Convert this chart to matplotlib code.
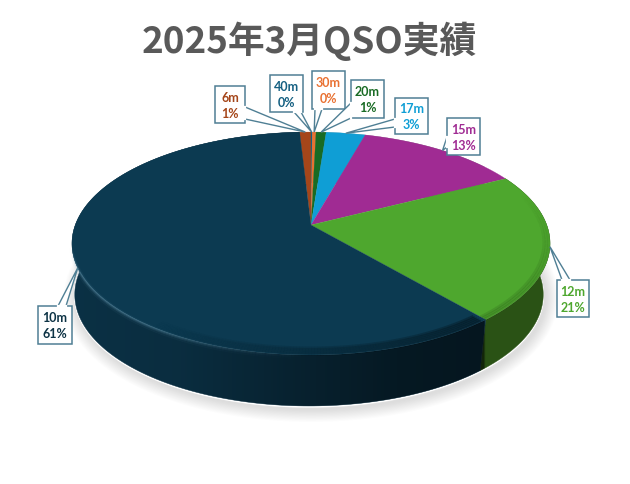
import numpy as np
import matplotlib
matplotlib.use("Agg")
import matplotlib.pyplot as plt
from matplotlib.collections import LineCollection
from matplotlib.patches import Polygon

plt.rcParams['font.family'] = ['Noto Sans CJK JP', 'DejaVu Sans']

# clockwise from the top of the pie
bands = ["6m", "40m", "30m", "20m", "17m", "15m", "12m", "10m"]
shares = [0.9, 0.1, 0.3, 0.8, 3.1, 13.1, 21.4, 60.3]
pct_labels = ["1%", "0%", "0%", "1%", "3%", "13%", "21%", "61%"]
title = "2025年3月QSO実績"

colors = ["#a5461a", "#156082", "#e97132", "#196b24", "#0f9ed5", "#a02b93", "#4ea72e", "#0c3a51"]
label_colors = colors[:7] + ["#0d3345"]
wall_colors = ["#5e2a10", "#0c3a4e", "#8a4420", "#0e3f15", "#0a5f80", "#601a58", "#2a5215", "#0b3145"]
# left, top, width, height of each callout box in pixels
boxes = [(215, 87, 30, 37), (270, 76, 33, 37), (312, 72, 33, 38), (351, 81, 33, 38),
         (395, 99, 33, 36), (447, 119, 33, 37), (557, 281, 32, 37), (38, 307, 34, 38)]
# where the tail leaves the box
tails = [((245, 108), (245, 120)), ((294, 113), (301, 113)), ((315, 110), (322, 110)), ((351, 104), (351, 119)),
         ((395, 120), (395, 128)), ((447, 138), (447, 148)), ((562, 281), (570, 281)), ((58, 307), (66, 307))]

CX, CY = 311, 226
A, B, K = 235.7, 108.4, 0.166
DEPTH = 51
START = -0.009


def rim(frac, r=1.0):
    # perspective view of a circle, frac runs clockwise from the top
    t = 2 * np.pi * np.asarray(frac)
    u, v = r * np.sin(t), -r * np.cos(t)
    w = 1 - K * v
    return CX + A * u / w, CY + B * v / w


def bottom_rim(frac):
    x, y = rim(frac)
    return CX - 2 + (x - CX) * 0.98, y + DEPTH


def fading_line(frac, alphas, color, lw, r=1.0, dy=0.0, z=5):
    x, y = rim(frac, r)
    pts = np.c_[x, y + dy]
    segs = np.stack([pts[:-1], pts[1:]], axis=1)
    rgb = matplotlib.colors.to_rgb(color)
    cols = [(rgb[0], rgb[1], rgb[2], a) for a in alphas[:-1]]
    ax.add_collection(LineCollection(segs, colors=cols, linewidths=lw, zorder=z, capstyle="butt"))


fig = plt.figure(figsize=(6.3, 4.85), dpi=100)
ax = fig.add_axes([0, 0, 1, 1])
ax.set_xlim(0, 630)
ax.set_ylim(485, 0)
ax.axis("off")

cum = START + np.concatenate([[0], np.cumsum(shares)]) / 100.0
all_fr = np.linspace(0, 1, 361)

# soft shadow under the pie
bx, by = bottom_rim(all_fr)
for i in range(12):
    ax.add_patch(Polygon(np.c_[bx + 2, by + 3], closed=True, fill=False,
                         ec="#8c8c8c", lw=1 + i * 1.6, alpha=0.025, zorder=1))
ax.add_patch(Polygon(np.c_[bx, by + 0.8], closed=True, fc="white", ec="white", lw=1.2, zorder=1.5))

# side wall, only the front parts show
for i in [6, 7]:
    fr = np.linspace(cum[i], cum[i + 1], 200)
    tx, ty = rim(fr)
    bx2, by2 = bottom_rim(fr)
    pts = np.r_[np.c_[tx, ty], np.c_[bx2, by2][::-1]]
    ax.add_patch(Polygon(pts, closed=True, fc=wall_colors[i], ec=wall_colors[i], lw=0.3, zorder=2))

# darker shading on the navy wall, growing towards the front right corner
tx, ty = rim(all_fr)
wall_clip = Polygon(np.r_[np.c_[tx, ty], np.c_[bx, by][::-1]], closed=True, transform=ax.transData)
xs = np.linspace(60, 560, 501)
shade = np.interp(xs, [60, 180, 300, 400, 484, 486, 560], [0.0, 0.08, 0.32, 0.5, 0.55, 0.0, 0.0])
rgba = np.zeros((1, 501, 4))
rgba[0, :, 3] = shade
im = ax.imshow(rgba, extent=(60, 560, 420, 130), aspect="auto", zorder=3, interpolation="bilinear")
im.set_clip_path(wall_clip)
ax.set_xlim(0, 630)
ax.set_ylim(485, 0)

# top face
for i in range(len(bands)):
    fr = np.linspace(cum[i], cum[i + 1], max(3, int(shares[i] * 4)))
    x, y = rim(fr)
    pts = np.r_[[[CX, CY]], np.c_[x, y]]
    ax.add_patch(Polygon(pts, closed=True, fc=colors[i], ec=colors[i], lw=0.2, zorder=4))

# bevel: light edge on the left front, dark edge on the right front
fr = np.linspace(0.5, 0.72, 120)
fade = np.interp(fr, [0.5, 0.6, 0.68, 0.72], [0.0, 0.3, 0.32, 0.0])
for lw, a, dy in [(4, 0.12, 1.5), (2, 0.3, 1), (1, 0.5, 0.5)]:
    fading_line(fr, fade * a / 0.3 * 0.5, "#6fa3bd", lw, dy=dy)
fr = np.linspace(0.391, 0.6, 120)
fade = np.interp(fr, [0.391, 0.46, 0.6], [0.5, 0.3, 0.0])
for r in [0.995, 0.985, 0.975, 0.965, 0.955]:
    fading_line(fr, fade * 0.5, "black", 2.2, r=r)
fr = np.linspace(0.2, 0.388, 100)
fade = np.interp(fr, [0.2, 0.33, 0.388], [0.0, 0.18, 0.2])
for r in [0.995, 0.985, 0.975]:
    fading_line(fr, fade * 0.5, "black", 2.2, r=r)

# callouts
edge = "#4f7f94"
for i in range(len(bands)):
    mid = (cum[i] + cum[i + 1]) / 2
    tipx, tipy = rim(mid)
    l, t, w, h = boxes[i]
    a, b = tails[i]
    ax.add_patch(Polygon([(l, t), (l + w, t), (l + w, t + h), (l, t + h)], closed=True,
                         fc="white", ec=edge, lw=1.1, zorder=6))
    ax.add_patch(Polygon([a, (tipx, tipy), b], closed=True, fc="white", ec=edge, lw=1.0, zorder=7))
    ax.plot([a[0], b[0]], [a[1], b[1]], color="white", lw=1.6, zorder=8)
    ax.text(l + w / 2, t + h * 0.29, bands[i], color=label_colors[i], fontsize=9, fontweight="bold",
            ha="center", va="center", family="Lato", zorder=9)
    ax.text(l + w / 2, t + h * 0.72, pct_labels[i], color=label_colors[i], fontsize=9, fontweight="bold",
            ha="center", va="center", family="Lato", zorder=9)

ax.text(309, 41, title, color="#595959", fontsize=26.5, fontweight="bold", ha="center", va="center")

fig.savefig("out.png", dpi=100)
